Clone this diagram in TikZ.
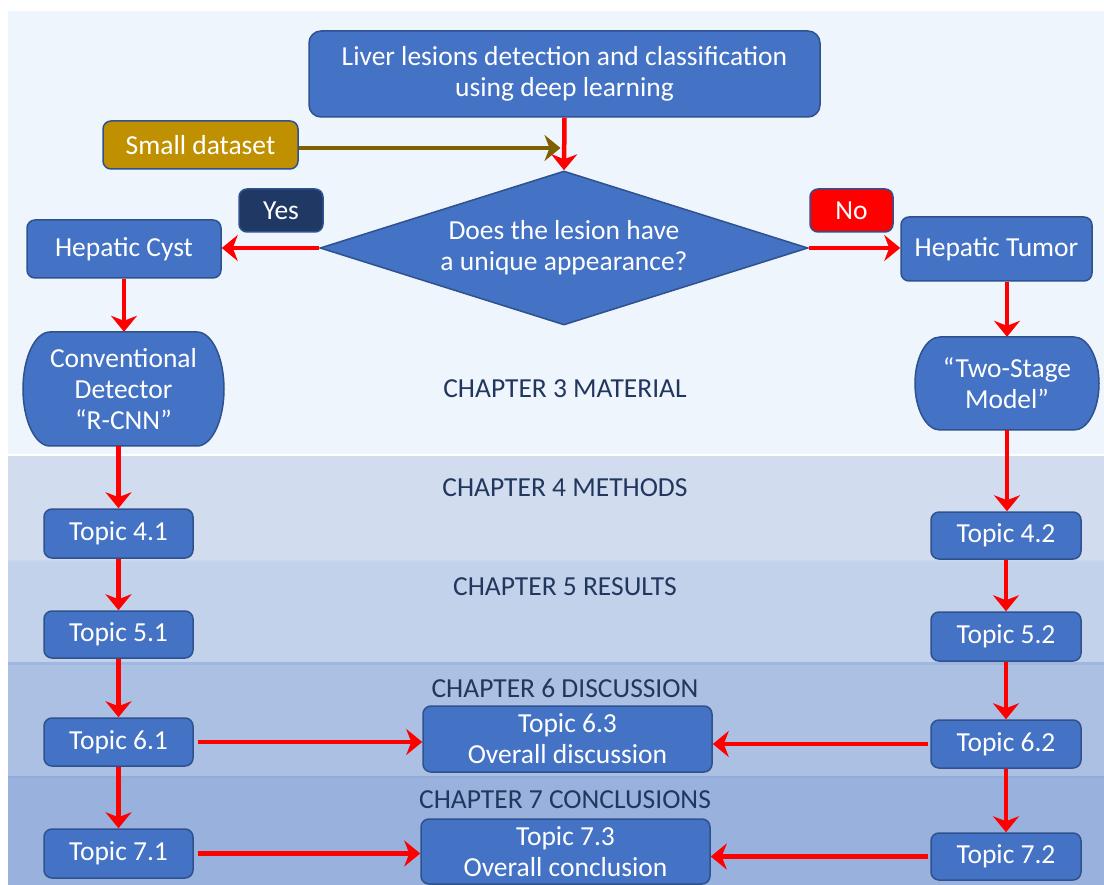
\documentclass[tikz,border=0pt]{standalone}
\usepackage{fontspec}
\setmainfont{Carlito}
\usetikzlibrary{shapes.geometric,arrows.meta,calc}
\definecolor{nodec}{HTML}{4472C4}
\definecolor{bordc}{HTML}{2F528F}
\definecolor{goldc}{HTML}{BF9000}
\definecolor{brownc}{HTML}{7F6000}
\definecolor{navyc}{HTML}{203864}
\definecolor{chapc}{HTML}{22375E}
\definecolor{bandA}{HTML}{EEF5FC}
\definecolor{bandB}{HTML}{D1DDEF}
\definecolor{bandC}{HTML}{C1D2EA}
\definecolor{bandD}{HTML}{ABC0E2}
\definecolor{bandE}{HTML}{99B1DD}
\definecolor{lineC}{HTML}{C9D7EC}
\definecolor{lineD}{HTML}{A0B7DF}
\definecolor{lineE}{HTML}{93ABD8}
\begin{document}
\begin{tikzpicture}[x=1pt,y=1pt,
  txt/.style={font=\fontsize{27.5}{31}\selectfont},
  box/.style={txt, draw=bordc, line width=1.5pt, fill=nodec, rounded corners=8pt,
    text=white, align=center, inner sep=0pt},
  plain/.style={txt, text=white, align=center, inner sep=0pt},
  chap/.style={txt, text=chapc, inner sep=0pt},
  ra/.style={draw=red, line width=4.5pt, -{Stealth[length=16pt,width=26pt,inset=5pt]}},
  ba/.style={draw=brownc, line width=4.5pt, -{Stealth[length=16pt,width=26pt,inset=5pt]}},
  shp/.style={draw=bordc, line width=1.5pt, fill=nodec}
]
\useasboundingbox (0,0) rectangle (1104,-885);
\fill[white] (0,0) rectangle (1104,-885);
% bands
\fill[bandA] (8,-11) rectangle (1104,-454);
\fill[white] (8,-454) rectangle (1104,-456);
\fill[bandB] (8,-456) rectangle (1104,-560);
\fill[lineC] (8,-560) rectangle (1104,-561.5);
\fill[bandC] (8,-561.5) rectangle (1104,-662);
\fill[lineD] (8,-662) rectangle (1104,-665);
\fill[bandD] (8,-665) rectangle (1104,-776);
\fill[lineE] (8,-776) rectangle (1104,-778);
\fill[bandE] (8,-778) rectangle (1104,-885);

% chapter labels
\node[chap] (ch3) at (565,-389) {CHAPTER 3 MATERIAL};
\node[chap] (ch4) at (565,-488) {CHAPTER 4 METHODS};
\node[chap] (ch5) at (565,-587) {CHAPTER 5 RESULTS};
\node[chap] (ch6) at (565,-688) {CHAPTER 6 DISCUSSION};
\node[chap] (ch7) at (565,-800) {CHAPTER 7 CONCLUSIONS};

% top
\node[box, rounded corners=12pt, minimum width=511pt, minimum height=86pt] (title) at (564.5,-74)
  {Liver lesions detection and classification\\using deep learning};
\node[box, fill=goldc, minimum width=195pt, minimum height=48pt] (small) at (200.5,-145) {Small dataset};
\node[box, fill=navyc, minimum width=84pt, minimum height=43pt] (yes) at (281,-210.5) {Yes};
\node[box, fill=red, minimum width=83pt, minimum height=43pt] (no) at (851.5,-210.5) {No};
\node[box, rounded corners=0pt, shape=diamond, aspect=3.17, minimum width=488pt, minimum height=154pt] (dia) at (564,-248)
  {Does the lesion have\\a unique appearance?};
\node[box, minimum width=194pt, minimum height=58pt] (cyst) at (124,-249) {Hepatic Cyst};
\node[box, minimum width=191pt, minimum height=64pt] (tumor) at (996.5,-249) {Hepatic Tumor};

% rounded-side shapes
\path[shp] (50,-332) -- (197,-332) arc[start angle=90, end angle=-90, x radius=27, y radius=57]
  -- (50,-446) arc[start angle=270, end angle=90, x radius=27, y radius=57] -- cycle;
\node[plain, minimum width=201pt, minimum height=114pt] (conv) at (123.5,-389)
  {Conventional\\Detector\\“R-CNN”};
\path[shp] (940,-337) -- (1074,-337) arc[start angle=90, end angle=-90, x radius=25, y radius=46.5]
  -- (940,-430) arc[start angle=270, end angle=90, x radius=25, y radius=46.5] -- cycle;
\node[plain, minimum width=184pt, minimum height=93pt] (two) at (1007,-383.5)
  {“Two-Stage\\Model”};

% topics
\node[box, minimum width=149pt, minimum height=49pt] (t41) at (118.5,-533.5) {Topic 4.1};
\node[box, minimum width=150pt, minimum height=47pt] (t42) at (1006,-535.5) {Topic 4.2};
\node[box, minimum width=149pt, minimum height=47pt] (t51) at (118.5,-634.5) {Topic 5.1};
\node[box, minimum width=150pt, minimum height=49pt] (t52) at (1006,-636.5) {Topic 5.2};
\node[box, minimum width=149pt, minimum height=48pt] (t61) at (118.5,-742) {Topic 6.1};
\node[box, minimum width=150pt, minimum height=48pt] (t62) at (1006,-744) {Topic 6.2};
\node[box, minimum width=289pt, minimum height=66pt] (t63) at (567.5,-739) {Topic 6.3\\Overall discussion};
\node[box, minimum width=149pt, minimum height=49pt] (t71) at (118.5,-853.5) {Topic 7.1};
\node[box, minimum width=150pt, minimum height=47pt] (t72) at (1006,-856.5) {Topic 7.2};
\node[box, minimum width=289pt, minimum height=65pt] (t73) at (565.5,-851.5) {Topic 7.3\\Overall conclusion};

% connectors
\coordinate (sdend) at ($(title.south |- small.east)+(-4,-3)$);
\draw[ba] (small.east |- sdend) -- (sdend);
\draw[ra] (title.south) -- (dia.north);
\draw[ra] (dia.west) -- (cyst.east |- dia.west);
\draw[ra] (dia.east) -- (tumor.west |- dia.east);
\draw[ra] (cyst.south) -- (cyst.south |- conv.north);
\draw[ra] (two.north |- tumor.south) -- (two.north);
\draw[ra] (conv.south -| t41.north) -- (t41.north);
\draw[ra] (two.south) -- (two.south |- t42.north);
\draw[ra] (t41.south) -- (t51.north);
\draw[ra] (t42.south) -- (t52.north);
\draw[ra] (t51.south) -- (t61.north);
\draw[ra] (t52.south) -- (t62.north);
\draw[ra] (t61.south) -- (t71.north);
\draw[ra] (t62.south) -- (t72.north);
\draw[ra, shorten <=4pt] (t61.east) -- (t63.west |- t61.east);
\draw[ra, shorten <=2pt] (t62.west) -- (t63.east |- t62.west);
\draw[ra, shorten <=4pt] (t71.east) -- (t73.west |- t71.east);
\draw[ra, shorten <=2pt] (t72.west) -- (t73.east |- t72.west);
\end{tikzpicture}
\end{document}
